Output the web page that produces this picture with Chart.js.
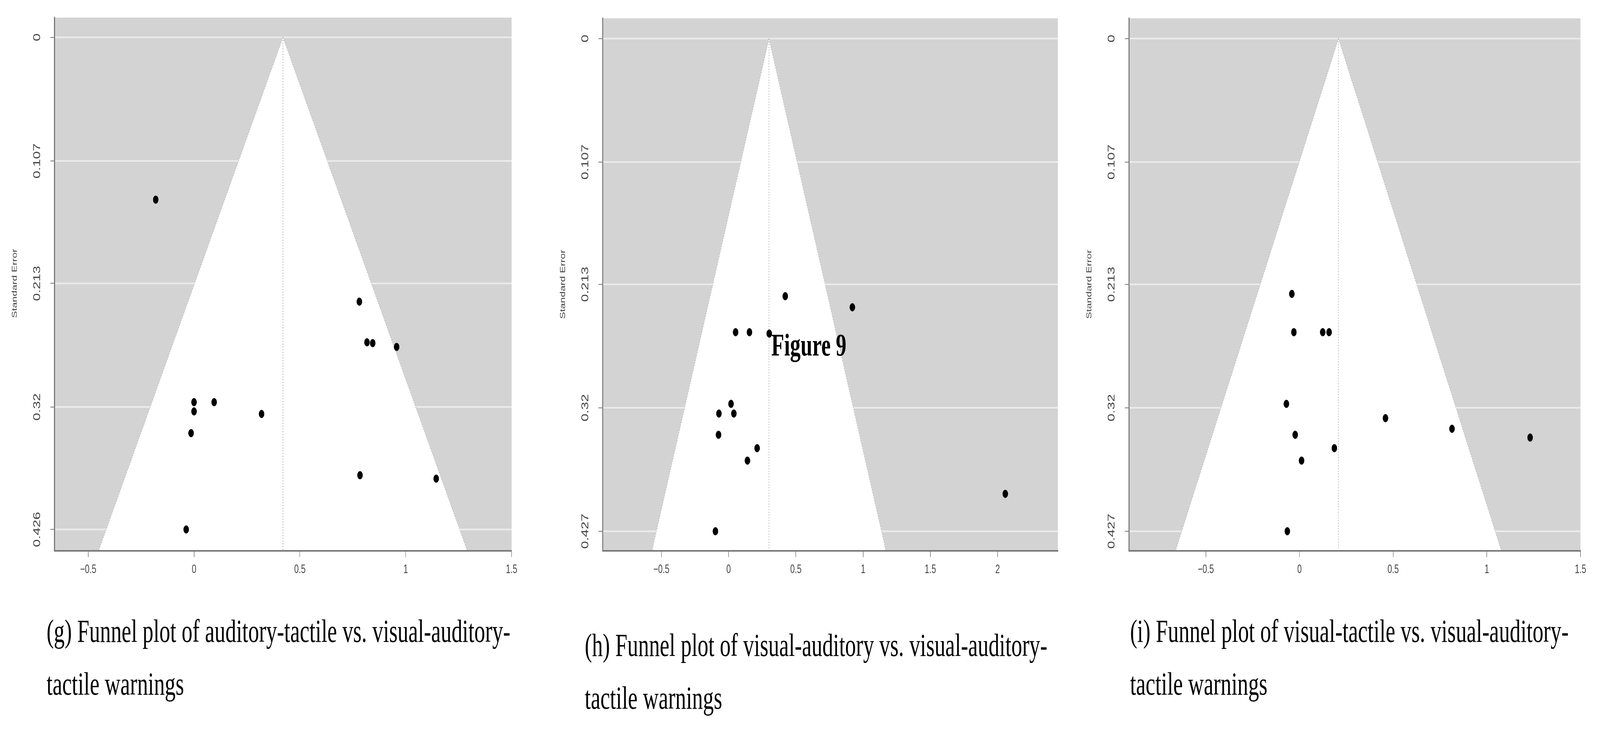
<!DOCTYPE html>
<html>
<head>
<meta charset="utf-8">
<script src="https://cdn.jsdelivr.net/npm/chart.js@4.4.1/dist/chart.umd.min.js"></script>
<style>
  html, body { margin: 0; padding: 0; background: #fff; overflow: hidden; }
  #page { position: absolute; left: 0; top: 0; width: 6074px; height: 1866px; transform-origin: 0 0; }
  canvas { position: absolute; }
  .cap { position: absolute; font-family: "Liberation Serif", "Times New Roman", serif; font-size: 82px; line-height: 135px; color: #000; white-space: nowrap; }
  #fig { position: absolute; left: 2928px; top: 838px; font-family: "Liberation Serif", serif; font-weight: bold; font-size: 80px; }
</style>
</head>
<body>
<div id="page">
<canvas id="plotG"></canvas>
<canvas id="plotH"></canvas>
<canvas id="plotI"></canvas>
<div class="cap" style="left:177px;top:1548px">(g) Funnel plot of auditory-tactile vs. visual-auditory-<br>tactile warnings</div>
<div class="cap" style="left:2220px;top:1584px">(h) Funnel plot of visual-auditory vs. visual-auditory-<br>tactile warnings</div>
<div class="cap" style="left:4290px;top:1548px">(i) Funnel plot of visual-tactile vs. visual-auditory-<br>tactile warnings</div>
<div id="fig">Figure 9</div>
</div>
<script>
// effect sizes and standard errors
const gEffect = [-0.181, 0.781, 0.817, 0.844, 0.957, 0.0, 0.095, 0.0, 0.319, -0.014, 0.784, 1.144, -0.037];
const gSE     = [0.1405, 0.2288, 0.264, 0.2647, 0.268, 0.3158, 0.3158, 0.3238, 0.326, 0.3426, 0.379, 0.382, 0.426];
const hEffect = [0.421, 0.920, 0.052, 0.155, 0.302, 0.018, -0.072, 0.039, -0.075, 0.212, 0.140, 2.057, -0.098];
const hSE     = [0.2233, 0.2329, 0.2545, 0.2545, 0.2557, 0.3166, 0.325, 0.325, 0.3434, 0.355, 0.3658, 0.3946, 0.427];
const iEffect = [-0.041, -0.030, 0.124, 0.158, -0.070, 0.459, 0.814, 1.231, -0.023, 0.186, 0.011, -0.065];
const iSE     = [0.2213, 0.2545, 0.2545, 0.2545, 0.3166, 0.329, 0.3382, 0.3458, 0.3434, 0.355, 0.3658, 0.427];

const gMean = 0.42, hMean = 0.30, iMean = 0.208;

const gSETicks = [0, 0.107, 0.213, 0.32, 0.426];
const hSETicks = [0, 0.107, 0.213, 0.32, 0.427];
const iSETicks = [0, 0.107, 0.213, 0.32, 0.427];
const gXTicks = [-0.5, 0, 0.5, 1, 1.5];
const hXTicks = [-0.5, 0, 0.5, 1, 1.5, 2];
const iXTicks = [-0.5, 0, 0.5, 1, 1.5];

const Y_W = 200, X_H = 120, PAD_R = 60;

// fit the 6074x1866 page into whatever viewport we actually get
const page = document.getElementById('page');
const sx = document.documentElement.clientWidth / 6074;
const sy = document.documentElement.clientHeight / 1866;
if (Math.abs(sx - 1) > 0.01 || Math.abs(sy - 1) > 0.01) {
  page.style.transform = 'scale(' + sx + ',' + sy + ')';
}

const funnelPlugin = {
  id: 'funnel',
  beforeDraw(chart, args, opts) {
    const { ctx, chartArea: a, scales: { x, y } } = chart;
    ctx.save();
    ctx.beginPath();
    ctx.rect(a.left, a.top, a.right - a.left, a.bottom - a.top);
    ctx.clip();
    ctx.fillStyle = '#d3d3d3';
    ctx.fillRect(a.left, a.top, a.right - a.left, a.bottom - a.top);
    ctx.strokeStyle = '#ececec';
    ctx.lineWidth = 4;
    opts.seTicks.forEach(v => {
      const py = y.getPixelForValue(v);
      ctx.beginPath(); ctx.moveTo(a.left, py); ctx.lineTo(a.right, py); ctx.stroke();
    });
    const seMax = y.max;
    const half = 1.96 * seMax;
    ctx.beginPath();
    ctx.moveTo(x.getPixelForValue(opts.mean), y.getPixelForValue(0));
    ctx.lineTo(x.getPixelForValue(opts.mean - half), y.getPixelForValue(seMax));
    ctx.lineTo(x.getPixelForValue(opts.mean + half), y.getPixelForValue(seMax));
    ctx.closePath();
    ctx.fillStyle = '#fff';
    ctx.fill();
    ctx.setLineDash([3, 4]);
    ctx.strokeStyle = '#b0b0b0';
    ctx.lineWidth = 2;
    ctx.stroke();
    ctx.strokeStyle = '#999';
    ctx.beginPath();
    ctx.moveTo(x.getPixelForValue(opts.mean), y.getPixelForValue(0));
    ctx.lineTo(x.getPixelForValue(opts.mean), a.bottom);
    ctx.stroke();
    ctx.restore();
  },
  afterDraw(chart, args, opts) {
    const { ctx, chartArea: a, scales: { y } } = chart;
    ctx.save();
    ctx.fillStyle = '#444';
    ctx.textAlign = 'center';
    ctx.textBaseline = 'middle';
    ctx.font = '36px "Liberation Sans", Arial, sans-serif';
    opts.seTicks.forEach(v => {
      ctx.save();
      ctx.translate(a.left - 65, y.getPixelForValue(v));
      ctx.rotate(-Math.PI / 2);
      ctx.fillText(String(v), 0, 0);
      ctx.restore();
    });
    ctx.font = '27px "Liberation Sans", Arial, sans-serif';
    ctx.translate(a.left - 150, y.getPixelForValue(0.213));
    ctx.rotate(-Math.PI / 2);
    ctx.fillText('Standard Error', 0, 0);
    ctx.restore();
  }
};

function makeFunnel(id, rect, effect, se, mean, xMin, xMax, yMin, yMax, xTicks, seTicks) {
  const cv = document.getElementById(id);
  const w = rect.right - rect.left + Y_W + PAD_R;
  const h = rect.bottom - rect.top + X_H;
  cv.width = w; cv.height = h;
  cv.style.left = (rect.left - Y_W) + 'px';
  cv.style.top = rect.top + 'px';
  cv.style.width = w + 'px';
  cv.style.height = h + 'px';
  return new Chart(cv, {
    type: 'scatter',
    data: {
      datasets: [{
        data: effect.map((v, k) => ({ x: v, y: se[k] })),
        backgroundColor: '#000',
        borderColor: '#000',
        pointRadius: 10,
        pointHoverRadius: 10
      }]
    },
    options: {
      responsive: false,
      animation: false,
      devicePixelRatio: 1,
      layout: { padding: { left: 0, top: 0, right: PAD_R, bottom: 0 } },
      plugins: {
        legend: { display: false },
        tooltip: { enabled: false },
        funnel: { mean: mean, seTicks: seTicks }
      },
      scales: {
        x: {
          type: 'linear', min: xMin, max: xMax,
          afterBuildTicks: s => { s.ticks = xTicks.map(v => ({ value: v })); },
          afterFit: s => { s.height = X_H; },
          grid: { drawOnChartArea: false, tickLength: 16, color: '#777', lineWidth: 2 },
          border: { color: '#777', width: 4 },
          ticks: {
            color: '#444', padding: 14, maxRotation: 0, autoSkip: false,
            font: { family: '"Liberation Sans", Arial, sans-serif', size: 31 },
            callback: v => String(v).replace('-', '\u2212')
          }
        },
        y: {
          type: 'linear', reverse: true, min: yMin, max: yMax,
          afterBuildTicks: s => { s.ticks = seTicks.map(v => ({ value: v })); },
          afterFit: s => { s.width = Y_W; },
          grid: { drawOnChartArea: false, tickLength: 16, color: '#777', lineWidth: 2 },
          border: { color: '#777', width: 4 },
          ticks: { display: false }
        }
      }
    },
    plugins: [funnelPlugin]
  });
}

makeFunnel('plotG', { left: 207, right: 1942, top: 34, bottom: 1410 }, gEffect, gSE, gMean,
  -0.659, 1.5, -0.0171, 0.4445, gXTicks, gSETicks);
makeFunnel('plotH', { left: 2288, right: 4016, top: 36, bottom: 1410 }, hEffect, hSE, hMean,
  -0.936, 2.448, -0.0175, 0.444, hXTicks, hSETicks);
makeFunnel('plotI', { left: 4286, right: 6000, top: 36, bottom: 1410 }, iEffect, iSE, iMean,
  -0.91, 1.5, -0.0175, 0.444, iXTicks, iSETicks);
</script>
</body>
</html>
